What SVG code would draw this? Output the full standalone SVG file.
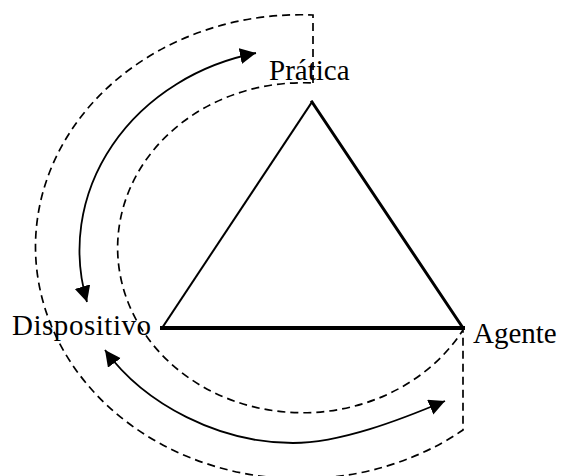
<svg xmlns="http://www.w3.org/2000/svg" width="568" height="476" viewBox="0 0 568 476">
<style>
.dash{fill:none;stroke:#000;stroke-width:1.7;stroke-dasharray:8,5}
.arr{fill:none;stroke:#000;stroke-width:1.8;marker-start:url(#ah);marker-end:url(#ah)}
.lbl{font-family:"Liberation Serif","Times New Roman",serif;font-size:29px;fill:#000}
.tri{stroke:#000;stroke-linecap:square}
</style>
<defs>
<marker id="ah" markerUnits="userSpaceOnUse" markerWidth="18" markerHeight="18" refX="16" refY="8" orient="auto-start-reverse">
<path d="M0,0 L16,8 L0,16 Z" fill="#000"/>
</marker>
</defs>
<g id="connectors">
<path id="band" class="dash" d="M313,83 L313,15 A265,232 0 1 0 463,430 L463,330 A185,165 0 1 1 313,83 Z"/>
<path id="arrow-top" class="arr" d="M256,53 A225,202 0 0 0 87,302"/>
<path id="arrow-bottom" class="arr" d="M105,350 C145,405 220,443 293,443 C340,443 400,420 445,401"/>
</g>
<g id="triangle">
<line class="tri" x1="162" y1="328" x2="312" y2="102" stroke-width="2"/>
<line class="tri" x1="312" y1="102" x2="463" y2="328" stroke-width="3"/>
<line class="tri" x1="162" y1="328" x2="463" y2="328" stroke-width="4"/>
</g>
<g id="pratica"><text class="lbl" x="269" y="80">Prática</text></g>
<g id="dispositivo"><text class="lbl" x="12" y="335" textLength="139" lengthAdjust="spacing">Dispositivo</text></g>
<g id="agente"><text class="lbl" x="473" y="343">Agente</text></g>
</svg>
